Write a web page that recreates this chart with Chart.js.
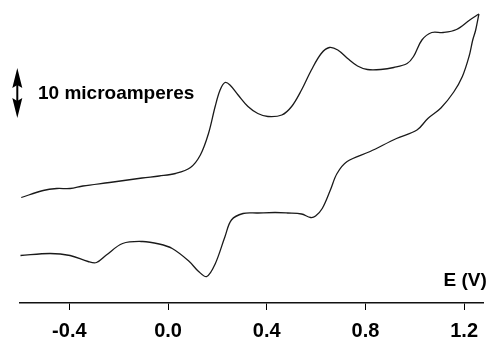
<!DOCTYPE html>
<html>
<head>
<meta charset="utf-8">
<style>
* {
  margin: 0;
  padding: 0;
}
body {
  background: #fff;
}
.chartBox {
  width: 488px;
  height: 341px;
}
</style>
</head>
<body>
<div class="chartBox">
  <canvas id="myChart"></canvas>
</div>
<script src="https://cdn.jsdelivr.net/npm/chart.js"></script>
<script>
// setup - potential in V, current in microamperes (baseline at the axis)
const forwardE = [-0.595, -0.506, -0.451, -0.397, -0.345, -0.237, -0.105, -0.036, 0.030, 0.091,
  0.131, 0.164, 0.191, 0.211, 0.231, 0.251, 0.284, 0.324, 0.364, 0.405,
  0.461, 0.501, 0.541, 0.581, 0.621, 0.654, 0.688, 0.728, 0.768, 0.808,
  0.862, 0.915, 0.969, 0.995, 1.029, 1.069, 1.115, 1.169, 1.223, 1.260];
const forwardI = [21.3, 22.7, 23.1, 23.1, 23.6, 24.3, 25.2, 25.6, 26.1, 27.3,
  29.8, 34.1, 39.5, 42.8, 44.3, 43.8, 41.8, 39.5, 38.1, 37.5,
  37.8, 39.5, 42.8, 46.8, 50.1, 51.3, 50.8, 49.1, 47.6, 46.9,
  46.9, 47.3, 48.1, 49.5, 52.8, 54.3, 54.3, 54.9, 56.8, 58.0];

const reverseE = [1.260, 1.247, 1.235, 1.220, 1.193, 1.158, 1.106, 1.053, 1.009, 0.926,
  0.819, 0.726, 0.685, 0.658, 0.625, 0.598, 0.578, 0.541, 0.485, 0.434,
  0.364, 0.304, 0.257, 0.231, 0.191, 0.157, 0.124, 0.084, 0.017, -0.036,
  -0.103, -0.184, -0.250, -0.290, -0.324, -0.397, -0.478, -0.598];
const reverseI = [58.0, 54.8, 52.8, 49.5, 45.5, 42.4, 39.2, 37.1, 34.8, 33.1,
  30.5, 28.5, 26.1, 22.8, 19.1, 17.6, 17.3, 18.0, 18.2, 18.3,
  18.2, 18.1, 16.8, 13.5, 8.0, 5.5, 6.5, 8.6, 11.1, 12.0,
  12.5, 12.1, 9.8, 8.3, 8.5, 9.7, 10.1, 9.7];

const xTicks = [-0.4, 0.0, 0.4, 0.8, 1.2];
const axisTitle = 'E (V)';
const scaleBarLabel = '10 microamperes';
const scaleBarFrom = 37.2;   // microamperes
const scaleBarSize = 10;     // microamperes

const toPoints = (xs, ys) => xs.map((x, i) => ({ x: x, y: ys[i] }));

const FONT = '"Liberation Sans", Arial, Helvetica, sans-serif';

const data = {
  datasets: [{
    label: 'forward',
    data: toPoints(forwardE, forwardI),
    borderColor: '#1a1a1a',
    borderWidth: 1.3,
    pointRadius: 0,
    showLine: true,
    tension: 0.35
  }, {
    label: 'reverse',
    data: toPoints(reverseE, reverseI),
    borderColor: '#1a1a1a',
    borderWidth: 1.3,
    pointRadius: 0,
    showLine: true,
    tension: 0.35
  }]
};

// scale bar arrow, its label and the axis title
const annotations = {
  id: 'annotations',
  afterDraw(chart) {
    const ctx = chart.ctx;
    const xs = chart.scales.x;
    const ys = chart.scales.y;
    const top = ys.getPixelForValue(scaleBarFrom + scaleBarSize);
    const bottom = ys.getPixelForValue(scaleBarFrom);
    const cx = 17.3;
    const head = 20;
    const hw = 5;
    ctx.save();
    ctx.fillStyle = '#000';
    ctx.strokeStyle = '#000';
    ctx.lineWidth = 2;
    ctx.beginPath();
    ctx.moveTo(cx, top + 8);
    ctx.lineTo(cx, bottom - 8);
    ctx.stroke();
    ctx.beginPath();
    ctx.moveTo(cx, top);
    ctx.lineTo(cx + hw, top + head);
    ctx.lineTo(cx, top + head - 3);
    ctx.lineTo(cx - hw, top + head);
    ctx.closePath();
    ctx.fill();
    ctx.beginPath();
    ctx.moveTo(cx, bottom);
    ctx.lineTo(cx + hw, bottom - head);
    ctx.lineTo(cx, bottom - head + 3);
    ctx.lineTo(cx - hw, bottom - head);
    ctx.closePath();
    ctx.fill();

    ctx.font = 'bold 19px ' + FONT;
    ctx.textBaseline = 'middle';
    ctx.textAlign = 'left';
    ctx.fillText(scaleBarLabel, 38, (top + bottom) / 2 + 1);

    ctx.fillText(axisTitle, 443.5, xs.top - 22);
    ctx.restore();
  }
};

// config
const config = {
  type: 'scatter',
  data,
  options: {
    responsive: true,
    maintainAspectRatio: false,
    animation: false,
    layout: {
      padding: { left: 20, right: 0, top: 0, bottom: 0 }
    },
    plugins: {
      legend: { display: false },
      tooltip: { enabled: false }
    },
    scales: {
      x: {
        type: 'linear',
        min: -0.6,
        max: 1.279,
        afterBuildTicks: (scale) => {
          scale.ticks = xTicks.map(v => ({ value: v }));
        },
        afterFit: (scale) => {
          scale.height = 38;
        },
        grid: {
          drawOnChartArea: false,
          drawTicks: true,
          tickLength: 7,
          color: '#000',
          lineWidth: 1
        },
        border: { display: true, color: '#111', width: 1.5 },
        ticks: {
          color: '#000',
          padding: 10,
          maxRotation: 0,
          font: { family: FONT, size: 20, weight: 'bold', lineHeight: 1.1 },
          callback: (v) => Number(v).toFixed(1)
        }
      },
      y: {
        display: false,
        min: 0.2,
        max: 60.8
      }
    }
  },
  plugins: [annotations]
};

// render init block
const myChart = new Chart(
  document.getElementById('myChart'),
  config
);
</script>
</body>
</html>
